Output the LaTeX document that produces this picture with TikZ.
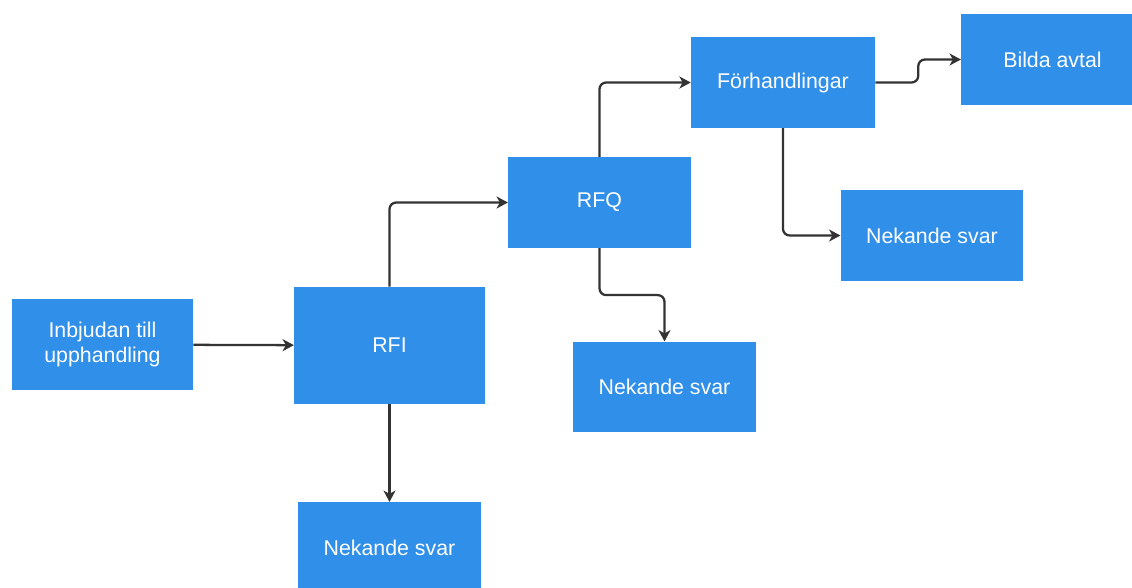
\documentclass[tikz,border=0pt]{standalone}
\usepackage{fontspec}
\setmainfont{Liberation Sans}
\usepackage{xcolor}
\usetikzlibrary{arrows.meta}
\definecolor{boxblue}{RGB}{48,143,232}
\definecolor{linegray}{RGB}{51,51,51}

\begin{document}
\begin{tikzpicture}[
  x=0.75pt, y=-0.75pt,
  block/.style={rectangle, fill=boxblue, text=white, align=center,
                inner sep=0pt, minimum width=137pt, minimum height=68pt,
                font=\fontsize{16}{19}\selectfont},
  arrow/.style={-{Stealth[length=8.5pt, width=9pt, inset=2.5pt]},
                line width=1.7pt, draw=linegray, rounded corners=5pt}
]
  \useasboundingbox (0,0) rectangle (1132,587);
  \node[block, minimum width=136pt] (inbjudan) at (102.5,344.5) {Inbjudan till\\upphandling};
  \node[block, minimum width=143pt, minimum height=88pt] (rfi) at (389.5,345.5) {RFI};
  \node[block] (nekA) at (389.5,547.5) {Nekande svar};
  \node[block] (rfq) at (599.5,202.5) {RFQ};
  \node[block] (nekB) at (664.5,387) {Nekande svar};
  \node[block, minimum width=138pt] (forh) at (783,82.5) {Förhandlingar};
  \node[block] (nekC) at (932,235.5) {Nekande svar};
  \node[block] (avtal) at (1052.5,59.5) {Bilda avtal};

  \draw[arrow] (inbjudan) -- (rfi);
  \draw[arrow] (rfi.north) |- (rfq.west);
  \draw[arrow] (rfi) -- (nekA);
  \draw[arrow] (rfq.north) |- (forh.west);
  \draw[arrow] (rfq.south) -- ++(0,47) -| (nekB.north);
  \draw[arrow] (forh.south) |- (nekC.west);
  \draw[arrow] (forh.east) -- ++(43,0) |- (avtal.west);
\end{tikzpicture}
\end{document}
